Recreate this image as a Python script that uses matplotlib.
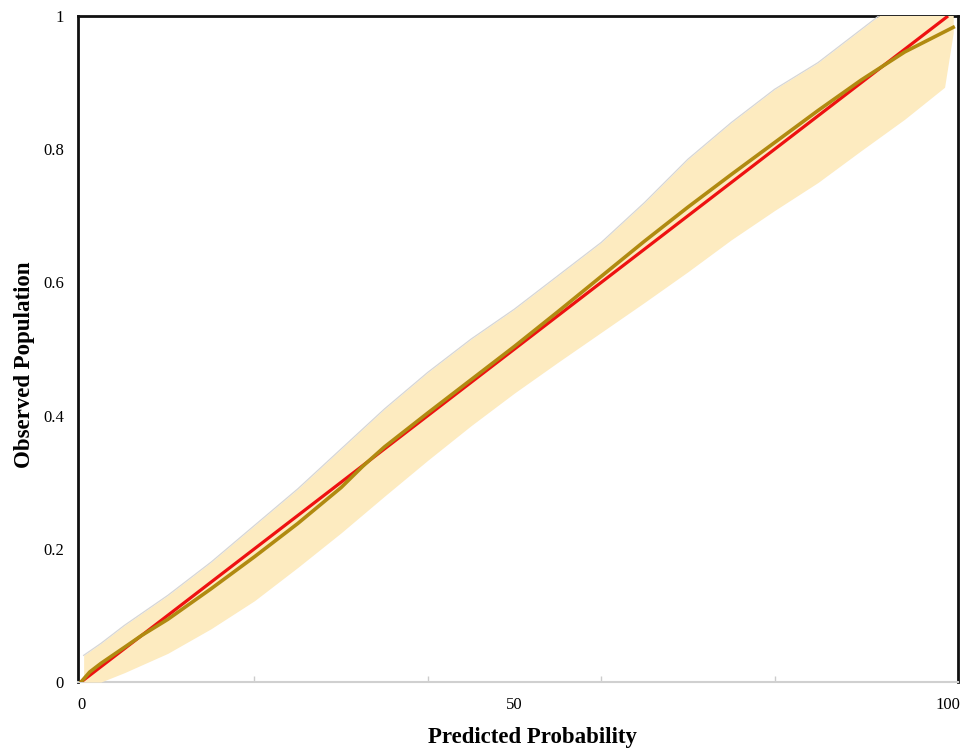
import numpy as np
import matplotlib
matplotlib.use("Agg")
import matplotlib.pyplot as plt
from matplotlib.ticker import FixedLocator

plt.rcParams['font.family'] = ['Liberation Serif', 'DejaVu Serif']

# calibration band (lower / upper bound of observed proportion)
band_x = [0.3, 2.3, 5, 10, 15, 20, 25, 30, 35, 40, 45, 50, 55, 60,
          65, 70, 75, 80, 85, 90, 95, 99.6, 100.6]
band_lo = [0.0, 0.0, 0.014, 0.043, 0.08, 0.122, 0.172, 0.224, 0.279, 0.333,
           0.385, 0.434, 0.48, 0.525, 0.57, 0.616, 0.664, 0.708, 0.75, 0.798,
           0.845, 0.893, 0.975]
band_hi = [0.04, 0.058, 0.085, 0.13, 0.18, 0.235, 0.29, 0.35, 0.41, 0.465,
           0.515, 0.56, 0.61, 0.66, 0.72, 0.785, 0.84, 0.89, 0.93, 0.98,
           1.03, 1.075, 1.08]

# fitted calibration curve
fit_x = [0, 1, 2.3, 5, 7, 10, 15, 20, 25, 30, 32.5, 35, 40, 45, 50, 55,
         60, 65, 70, 75, 80, 85, 90, 92.5, 95, 100.6]
fit_y = [0.0, 0.015, 0.028, 0.052, 0.07, 0.094, 0.14, 0.188, 0.238, 0.292,
         0.324, 0.353, 0.404, 0.454, 0.504, 0.556, 0.609, 0.662, 0.713, 0.762,
         0.81, 0.858, 0.904, 0.925, 0.946, 0.983]

# perfect calibration
ideal_x = [0, 100]
ideal_y = [0, 1]

xticks = [0, 50, 100]
yticks = [0, 0.2, 0.4, 0.6, 0.8, 1]
yticklabels = ['0', '0.2', '0.4', '0.6', '0.8', '1']

fig = plt.figure(figsize=(9.78, 7.5), dpi=100)
ax = fig.add_axes([78 / 978, 1 - 682 / 750, 880 / 978, 666 / 750])

ax.fill_between(band_x, band_lo, band_hi, color='#fdebc0', lw=0, zorder=3)
ax.plot(band_x, band_hi, color='#d6d6d6', lw=0.9, zorder=3)
ax.plot(ideal_x, ideal_y, color='#ee1111', lw=2.3, zorder=4,
        solid_capstyle='butt')
ax.plot(fit_x, fit_y, color='#b08a10', lw=2.6, zorder=4)

ax.set_xlim(-0.35, 101.15)
ax.set_ylim(0, 1)

ax.set_xticks(xticks)
ax.set_xticklabels([str(t) for t in xticks])
ax.xaxis.set_minor_locator(FixedLocator([20, 40, 60, 80, 100]))
ax.tick_params(axis='x', which='major', length=0, pad=11, labelsize=12)
ax.tick_params(axis='x', which='minor', direction='in', length=4,
               color='#cccccc', width=1)
ax.set_yticks(yticks)
ax.set_yticklabels(yticklabels)
ax.tick_params(axis='y', length=0, pad=10, labelsize=12)

for side in ['left', 'top', 'right']:
    ax.spines[side].set_color('#111111')
    ax.spines[side].set_linewidth(2)
ax.spines['bottom'].set_color('#d0d0d0')
ax.spines['bottom'].set_linewidth(1.5)

fig.text(532 / 978, 1 - 738 / 750, 'Predicted Probability', ha='center',
         va='center', fontsize=16.5, fontweight='bold')
fig.text(25 / 978, 1 - 365 / 750, 'Observed Population', ha='center',
         va='center', rotation=90, fontsize=16.5, fontweight='bold')

fig.savefig('out.png', dpi=100)
